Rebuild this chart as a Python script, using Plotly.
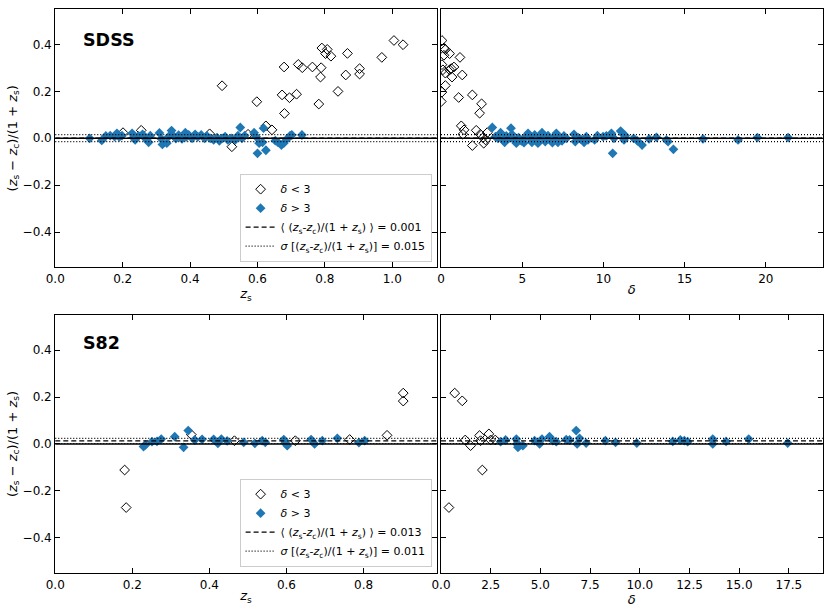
import plotly.graph_objects as go
from plotly.subplots import make_subplots

# ---- SDSS: residual vs spectroscopic redshift ----
sdss_zs_low = [0.495, 0.598, 0.625, 0.643, 0.572, 0.524, 0.458, 0.201, 0.255, 0.679, 0.673, 0.695,
               0.716, 0.680, 0.721, 0.733, 0.763, 0.789, 0.787, 0.782, 0.791, 0.807, 0.802, 0.818,
               0.867, 0.862, 0.839, 0.903, 0.903, 0.969, 1.005, 1.032]
sdss_res_low = [0.224, 0.156, 0.053, 0.036, 0.017, -0.036, 0.019, 0.024, 0.034, 0.304, 0.185, 0.173,
                0.188, 0.106, 0.315, 0.301, 0.304, 0.301, 0.261, 0.146, 0.385, 0.379, 0.361, 0.350,
                0.362, 0.270, 0.200, 0.297, 0.274, 0.345, 0.417, 0.399]
sdss_zs_high = [0.102, 0.138, 0.150, 0.163, 0.176, 0.183, 0.190, 0.198, 0.228, 0.232, 0.237, 0.247,
                0.259, 0.267, 0.277, 0.282, 0.309, 0.315, 0.318, 0.331, 0.336, 0.345, 0.351, 0.358,
                0.366, 0.376, 0.386, 0.389, 0.396, 0.406, 0.415, 0.423, 0.433, 0.443, 0.450, 0.460,
                0.470, 0.480, 0.487, 0.495, 0.504, 0.512, 0.522, 0.534, 0.542, 0.549, 0.554, 0.562,
                0.590, 0.596, 0.600, 0.605, 0.615, 0.618, 0.625, 0.653, 0.661, 0.671, 0.678, 0.687,
                0.697, 0.702, 0.732]
sdss_res_high = [0.000, -0.009, 0.010, 0.011, 0.007, 0.021, 0.006, 0.011, 0.021, 0.003, -0.007, 0.010,
                 0.017, 0.000, -0.017, 0.011, 0.023, -0.003, -0.026, -0.021, 0.007, 0.033, 0.010, -0.001,
                 0.013, -0.003, 0.024, 0.006, 0.014, 0.000, 0.017, 0.006, 0.014, 0.000, 0.010, 0.000,
                 -0.007, 0.003, -0.011, 0.000, 0.007, -0.007, 0.000, -0.007, 0.011, 0.046, 0.000, 0.011,
                 0.024, 0.007, -0.064, -0.021, -0.017, 0.043, -0.051, -0.010, -0.017, -0.029, -0.021, -0.004,
                 0.011, 0.014, 0.014]

# ---- SDSS: residual vs delta ----
sdss_delta_low = [0.06, 0.18, 0.27, 0.18, 0.53, 1.17, 0.06, 0.12, 0.27, 0.53, 0.80, 0.64, 0.68, 1.31,
                  0.27, 0.06, 0.02, 1.09, 1.93, 2.50, 2.38, 1.25, 1.42, 1.35, 2.17, 1.93, 2.42, 2.59,
                  2.63, 2.85, 2.75]
sdss_dres_low = [0.417, 0.385, 0.378, 0.354, 0.361, 0.345, 0.314, 0.292, 0.278, 0.292, 0.304, 0.297,
                 0.261, 0.270, 0.225, 0.197, 0.157, 0.174, 0.185, 0.147, 0.107, 0.053, 0.036, 0.017,
                 0.034, -0.031, 0.017, 0.003, -0.021, 0.024, -0.007]
sdss_delta_high = [3.16, 3.35, 3.51, 3.67, 3.82, 3.92, 4.02, 4.17, 4.31, 4.37, 4.49, 4.64, 4.78, 4.95,
                   5.11, 5.25, 5.36, 5.52, 5.60, 5.77, 5.87, 5.97, 6.08, 6.22, 6.34, 6.42, 6.59, 6.73,
                   6.86, 7.00, 7.10, 7.20, 7.31, 7.45, 7.57, 7.72, 8.19, 8.27, 8.44, 8.60, 8.81, 8.95,
                   9.05, 9.46, 9.63, 9.98, 10.18, 10.49, 10.57, 10.65, 11.06, 11.21, 11.35, 11.27, 11.86,
                   12.09, 12.38, 12.81, 13.26, 13.88, 13.98, 14.31, 16.13, 18.29, 19.48, 21.37]
sdss_dres_high = [0.046, 0.007, 0.000, 0.024, -0.007, -0.017, 0.010, 0.000, 0.043, 0.017, -0.007, -0.021,
                  0.003, -0.011, -0.019, 0.010, 0.021, -0.003, -0.017, 0.014, 0.000, -0.021, 0.007, 0.024,
                  0.000, -0.014, 0.011, -0.003, -0.019, 0.007, 0.021, -0.017, 0.003, -0.011, 0.010, 0.000,
                  0.017, -0.014, 0.003, -0.004, -0.017, 0.007, -0.007, -0.007, 0.011, 0.007, 0.010, 0.021,
                  -0.064, 0.000, 0.031, 0.017, 0.011, -0.007, 0.000, -0.011, -0.029, -0.003, 0.004, -0.007,
                  -0.014, -0.047, -0.003, -0.007, 0.003, 0.003]

# ---- S82 ----
s82_zs_low = [0.180, 0.184, 0.353, 0.465, 0.623, 0.764, 0.861, 0.903, 0.903]
s82_res_low = [-0.111, -0.271, 0.040, 0.014, 0.014, 0.019, 0.037, 0.217, 0.183]
s82_zs_high = [0.229, 0.234, 0.251, 0.264, 0.275, 0.310, 0.333, 0.345, 0.362, 0.381, 0.411, 0.422,
               0.431, 0.446, 0.489, 0.518, 0.537, 0.545, 0.593, 0.597, 0.602, 0.664, 0.673, 0.693,
               0.732, 0.788, 0.803]
s82_res_high = [-0.011, -0.004, 0.010, 0.011, 0.021, 0.031, -0.014, 0.057, 0.017, 0.020, 0.020, 0.003,
                0.021, 0.013, 0.007, 0.003, 0.014, 0.007, 0.019, 0.004, -0.007, 0.019, 0.000, 0.014,
                0.024, 0.006, 0.014]

s82_delta_low = [0.40, 0.69, 1.07, 1.22, 1.49, 1.94, 1.99, 2.08, 2.41, 2.50, 2.73]
s82_dres_low = [-0.271, 0.217, 0.184, 0.017, -0.007, 0.036, 0.014, -0.111, 0.043, 0.017, 0.017]
s82_delta_high = [3.00, 3.25, 3.79, 3.82, 3.87, 3.95, 4.12, 4.71, 4.96, 5.08, 5.46, 5.63, 5.80, 6.30,
                  6.47, 6.80, 6.85, 6.97, 7.30, 8.27, 8.78, 9.85, 11.66, 12.04, 12.24, 12.41, 13.67,
                  13.67, 14.34, 15.48, 17.44]
s82_dres_high = [0.010, 0.017, 0.021, 0.000, -0.014, -0.007, -0.007, 0.014, 0.000, 0.021, 0.031, 0.014,
                 0.010, 0.019, 0.017, 0.057, 0.000, 0.024, 0.004, 0.014, 0.007, 0.004, 0.011, 0.017,
                 0.014, 0.010, 0.021, 0.000, 0.011, 0.021, 0.004]

# mean and scatter of the residuals
sdss_mean, sdss_sigma = 0.001, 0.015
s82_mean, s82_sigma = 0.013, 0.011

BLUE = "#1f77b4"
FONT = "DejaVu Sans"
RES = "(<i>z</i><sub>s</sub>-<i>z</i><sub>c</sub>)/(1 + <i>z</i><sub>s</sub>)"

fig = make_subplots(rows=2, cols=2)


def add_panel(row, col, x_low, y_low, x_high, y_high, mean, sigma, legend_name):
    show = legend_name is not None
    leg = legend_name if show else "legend"
    fig.add_trace(go.Scatter(x=x_low, y=y_low, mode="markers", name="<i>δ</i> < 3",
                             marker=dict(symbol="diamond-open", size=7.5, color="black",
                                         line=dict(width=1, color="black")),
                             showlegend=show, legend=leg), row=row, col=col)
    fig.add_trace(go.Scatter(x=x_high, y=y_high, mode="markers", name="<i>δ</i> > 3",
                             marker=dict(symbol="diamond", size=7.5, color=BLUE, line=dict(width=0)),
                             showlegend=show, legend=leg), row=row, col=col)
    # reference lines: zero, mean, mean +- sigma
    fig.add_hline(y=0, line=dict(color="black", width=1.5), row=row, col=col)
    fig.add_hline(y=mean, line=dict(color="black", width=1.2, dash="5px,3px"), row=row, col=col)
    fig.add_hline(y=mean + sigma, line=dict(color="black", width=1.2, dash="1px,2px"), row=row, col=col)
    fig.add_hline(y=mean - sigma, line=dict(color="black", width=1.2, dash="1px,2px"), row=row, col=col)
    if show:
        # legend-only entries for the lines
        fig.add_trace(go.Scatter(x=[None], y=[None], mode="lines",
                                 name="⟨ " + RES + " ⟩ = %.3f" % mean,
                                 line=dict(color="black", width=1.2, dash="5px,3px"),
                                 legend=leg), row=row, col=col)
        fig.add_trace(go.Scatter(x=[None], y=[None], mode="lines",
                                 name="<i>σ</i> [" + RES + "] = %.3f" % sigma,
                                 line=dict(color="black", width=1.2, dash="1px,2px"),
                                 legend=leg), row=row, col=col)


add_panel(1, 1, sdss_zs_low, sdss_res_low, sdss_zs_high, sdss_res_high, sdss_mean, sdss_sigma, "legend")
add_panel(1, 2, sdss_delta_low, sdss_dres_low, sdss_delta_high, sdss_dres_high, sdss_mean, sdss_sigma, None)
add_panel(2, 1, s82_zs_low, s82_res_low, s82_zs_high, s82_res_high, s82_mean, s82_sigma, "legend2")
add_panel(2, 2, s82_delta_low, s82_dres_low, s82_delta_high, s82_dres_high, s82_mean, s82_sigma, None)

axis_style = dict(showline=True, linecolor="black", linewidth=1.3, mirror="ticks", ticks="inside",
                  ticklen=5, tickwidth=1, tickcolor="black", showgrid=False, zeroline=False,
                  automargin=False, tickfont=dict(family=FONT, size=12, color="black"))
fig.update_xaxes(**axis_style)
fig.update_yaxes(**axis_style, range=[-0.55, 0.55], dtick=0.2, tick0=0, tickformat=".1f")

xtitle_z = dict(text="<i>z</i><sub>s</sub>", font=dict(family=FONT, size=13, color="black"), standoff=0)
xtitle_d = dict(text="<i>δ</i>", font=dict(family=FONT, size=13, color="black"), standoff=0)
ytitle = dict(text="(<i>z</i><sub>s</sub> − <i>z</i><sub>c</sub>)/(1 + <i>z</i><sub>s</sub>)",
              font=dict(family=FONT, size=13, color="black"), standoff=2)

legend_style = dict(xanchor="right", yanchor="bottom", bgcolor="white", bordercolor="#cccccc",
                    borderwidth=1, tracegroupgap=0, itemwidth=30,
                    font=dict(family=FONT, size=11, color="black"))

fig.update_layout(
    xaxis=dict(domain=[0.0666, 0.5262], range=[0, 1.132], dtick=0.2, tick0=0, tickformat=".1f", title=xtitle_z),
    xaxis2=dict(domain=[0.5313, 0.9912], range=[0, 23.5], dtick=5, tick0=0, title=xtitle_d),
    xaxis3=dict(domain=[0.0666, 0.5262], range=[0, 0.99], dtick=0.2, tick0=0, tickformat=".1f", title=xtitle_z),
    xaxis4=dict(domain=[0.5313, 0.9912], range=[0, 19.2], dtick=2.5, tick0=0, tickformat=".1f", title=xtitle_d),
    yaxis=dict(domain=[0.5604, 0.9847], title=ytitle),
    yaxis2=dict(domain=[0.5604, 0.9847], showticklabels=False),
    yaxis3=dict(domain=[0.0576, 0.4819], title=ytitle),
    yaxis4=dict(domain=[0.0576, 0.4819], showticklabels=False),
    legend=dict(x=0.520, y=0.5696, **legend_style),
    legend2=dict(x=0.520, y=0.068, **legend_style),
    width=830, height=608,
    margin=dict(l=0, r=0, t=0, b=0),
    plot_bgcolor="white", paper_bgcolor="white",
    font=dict(family=FONT, size=12, color="black"),
)

# survey labels
fig.add_annotation(text="<b>SDSS</b>", xref="x domain", yref="y domain", x=0.068, y=0.881,
                   xanchor="left", yanchor="middle", showarrow=False,
                   font=dict(family=FONT, size=17.5, color="black"))
fig.add_annotation(text="<b>S82</b>", xref="x3 domain", yref="y3 domain", x=0.068, y=0.891,
                   xanchor="left", yanchor="middle", showarrow=False,
                   font=dict(family=FONT, size=17.5, color="black"))

# page body has a default margin; drop it so the figure fills the window
fig.write_html("out.html", config={"displayModeBar": False},
               post_script="document.body.style.margin = '0';")
